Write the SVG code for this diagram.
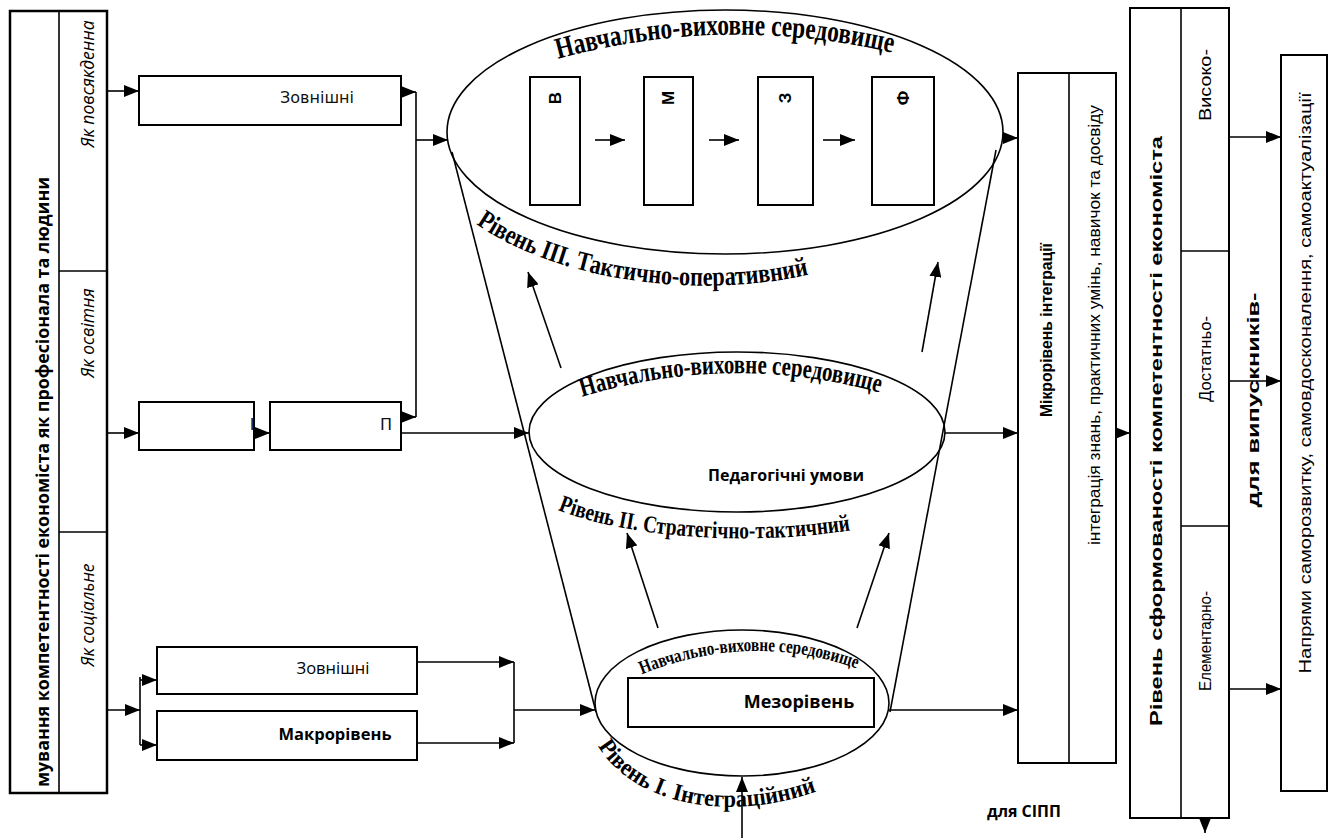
<svg xmlns="http://www.w3.org/2000/svg" width="1335" height="838" viewBox="0 0 1335 838">
<defs>
<marker id="ah" markerWidth="16" markerHeight="12" refX="15" refY="6" orient="auto" markerUnits="userSpaceOnUse">
<path d="M0,0 L15,6 L0,12 z" fill="#000"/>
</marker>
<path id="arc1" d="M 554,60 Q 727,12 902,55"/>
<path id="arc2" d="M 578,398 Q 733,350 888,395"/>
<path id="arc3" d="M 638,676 Q 752,628 866,672"/>
<path id="arcR3" d="M 476,224 C 560,282 700,300 812,274"/>
<path id="arcR2" d="M 558,510 C 620,535 740,548 852,530"/>
<path id="arcR1" d="M 598,746 C 630,800 720,825 815,792"/>
</defs>
<style>
.box{fill:#fff;stroke:#000;stroke-width:2}
.thick{fill:#fff;stroke:#000;stroke-width:2.5}
.ell{fill:none;stroke:#000;stroke-width:1.6}
.ln{fill:none;stroke:#000;stroke-width:1.6}
.arr{fill:none;stroke:#000;stroke-width:1.6;marker-end:url(#ah)}
.wa{font-family:"Liberation Serif",serif;font-weight:bold;fill:#000}
.sb{font-family:"Open Sans","Liberation Sans",sans-serif;font-weight:bold;fill:#000}
.sr{font-family:"Open Sans","Liberation Sans",sans-serif;fill:#000}
.it{font-family:"Open Sans","Liberation Sans",sans-serif;font-style:italic;fill:#000;font-size:17.5px}
.dv{font-family:"DejaVu Sans",sans-serif;fill:#111;font-size:16px}
.nb{font-family:"Liberation Sans",sans-serif;font-weight:bold;fill:#000}
.nr{font-family:"Liberation Sans",sans-serif;fill:#000}
</style>

<g id="left-column">
<rect class="thick" x="10" y="11" width="97" height="782"/>
<line class="ln" x1="59" y1="11" x2="59" y2="793" stroke-width="2"/>
<line class="ln" x1="59" y1="271" x2="107" y2="271" stroke-width="2"/>
<line class="ln" x1="59" y1="532" x2="107" y2="532" stroke-width="2"/>
<text class="sb" font-size="17" x="42" y="482" text-anchor="middle" dominant-baseline="central" transform="rotate(-90 42 482)" textLength="610" lengthAdjust="spacingAndGlyphs">мування компетентності економіста як професіонала та людини</text>
<text class="it" x="87" y="84" text-anchor="middle" dominant-baseline="central" transform="rotate(-90 87 84)">Як повсякденна</text>
<text class="it" x="87" y="333" text-anchor="middle" dominant-baseline="central" transform="rotate(-90 87 333)">Як освітня</text>
<text class="it" x="87" y="615" text-anchor="middle" dominant-baseline="central" transform="rotate(-90 87 615)">Як соціальне</text>
</g>

<g id="box-zovnishni-1">
<rect class="box" x="139" y="76" width="262" height="49"/>
<text class="dv" x="317" y="103" text-anchor="middle">Зовнішні</text>
</g>
<g id="box-i">
<rect class="box" x="139" y="402" width="115" height="48"/>
<text class="dv" x="252" y="430" text-anchor="middle" fill="#444">І</text>
</g>
<g id="box-p">
<rect class="box" x="270" y="402" width="131" height="48"/>
<text class="dv" x="386" y="430" text-anchor="middle" fill="#222">П</text>
</g>
<g id="box-zovnishni-2">
<rect class="box" x="157" y="647" width="260" height="47"/>
<text class="sr" font-size="16.5" x="333" y="674" text-anchor="middle">Зовнішні</text>
</g>
<g id="box-makro">
<rect class="box" x="157" y="711" width="260" height="49"/>
<text class="sb" font-size="16.5" x="335" y="740" text-anchor="middle">Макрорівень</text>
</g>

<g id="ellipse-1">
<ellipse class="ell" cx="725" cy="132" rx="278" ry="122"/>
<text class="wa" font-size="30"><textPath href="#arc1" startOffset="4" textLength="338" lengthAdjust="spacingAndGlyphs">Навчально-виховне середовище</textPath></text>
</g>
<g id="box-v"><rect class="box" x="530" y="77" width="50" height="128"/>
<text class="nb" font-size="17" x="555" y="98" text-anchor="middle" dominant-baseline="central" transform="rotate(-90 555 98)">В</text></g>
<g id="box-m"><rect class="box" x="644" y="77" width="49" height="128"/>
<text class="nb" font-size="17" x="668" y="98" text-anchor="middle" dominant-baseline="central" transform="rotate(-90 668 98)">М</text></g>
<g id="box-z"><rect class="box" x="758" y="77" width="55" height="128"/>
<text class="nb" font-size="17" x="785" y="98" text-anchor="middle" dominant-baseline="central" transform="rotate(-90 785 98)">З</text></g>
<g id="box-f"><rect class="box" x="872" y="77" width="62" height="128"/>
<text class="nb" font-size="17" x="903" y="98" text-anchor="middle" dominant-baseline="central" transform="rotate(-90 903 98)">Ф</text></g>

<g id="level-3-label">
<text class="wa" font-size="27"><textPath href="#arcR3" textLength="345" lengthAdjust="spacingAndGlyphs">Рівень ІІІ. Тактично-оперативний</textPath></text>
</g>

<g id="ellipse-2">
<ellipse class="ell" cx="737" cy="432" rx="208" ry="80"/>
<text class="wa" font-size="27"><textPath href="#arc2" startOffset="4" textLength="302" lengthAdjust="spacingAndGlyphs">Навчально-виховне середовище</textPath></text>
<text class="sb" font-size="16" x="786" y="481" text-anchor="middle">Педагогічні умови</text>
</g>

<g id="level-2-label">
<text class="wa" font-size="24"><textPath href="#arcR2" textLength="296" lengthAdjust="spacingAndGlyphs">Рівень ІІ. Стратегічно-тактичний</textPath></text>
</g>

<g id="ellipse-3">
<ellipse class="ell" cx="742" cy="703" rx="147" ry="73"/>
<text class="wa" font-size="19"><textPath href="#arc3" startOffset="4" textLength="220" lengthAdjust="spacingAndGlyphs">Навчально-виховне середовище</textPath></text>
</g>
<g id="box-mezo">
<rect class="box" x="628" y="678" width="246" height="49"/>
<text class="sb" font-size="18" x="799" y="708" text-anchor="middle">Мезорівень</text>
</g>

<g id="level-1-label">
<text class="wa" font-size="24"><textPath href="#arcR1" textLength="240" lengthAdjust="spacingAndGlyphs">Рівень І. Інтеграційний</textPath></text>
</g>

<g id="box-mikro">
<rect class="box" x="1018" y="73" width="98" height="690"/>
<line class="ln" x1="1069" y1="73" x2="1069" y2="763" stroke-width="2"/>
<text class="nb" font-size="17" x="1046" y="330" text-anchor="middle" dominant-baseline="central" transform="rotate(-90 1046 330)" textLength="174" lengthAdjust="spacingAndGlyphs">Мікрорівень інтеграції</text>
<text class="nr" font-size="16" x="1094" y="325" text-anchor="middle" dominant-baseline="central" transform="rotate(-90 1094 325)" textLength="440" lengthAdjust="spacingAndGlyphs">інтеграція знань, практичних умінь, навичок та досвіду</text>
</g>

<g id="box-riven">
<rect class="box" x="1130" y="8" width="99" height="810"/>
<line class="ln" x1="1181" y1="8" x2="1181" y2="818" stroke-width="2"/>
<line class="ln" x1="1181" y1="251" x2="1229" y2="251" stroke-width="2"/>
<line class="ln" x1="1181" y1="526" x2="1229" y2="526" stroke-width="2"/>
<text class="nb" font-size="16.5" x="1156" y="431" text-anchor="middle" dominant-baseline="central" transform="rotate(-90 1156 431)" textLength="590" lengthAdjust="spacingAndGlyphs">Рівень сформованості компетентності економіста</text>
<text class="nr" font-size="16" x="1205" y="85" text-anchor="middle" dominant-baseline="central" transform="rotate(-90 1205 85)" textLength="72" lengthAdjust="spacingAndGlyphs">Високо-</text>
<text class="nr" font-size="16" x="1205" y="359" text-anchor="middle" dominant-baseline="central" transform="rotate(-90 1205 359)" textLength="86" lengthAdjust="spacingAndGlyphs">Достатньо-</text>
<text class="nr" font-size="16" x="1205" y="641" text-anchor="middle" dominant-baseline="central" transform="rotate(-90 1205 641)" textLength="100" lengthAdjust="spacingAndGlyphs">Елементарно-</text>
</g>

<g id="box-napriamy">
<rect class="box" x="1281" y="55" width="46" height="736"/>
<text class="nr" font-size="16" x="1305" y="383" text-anchor="middle" dominant-baseline="central" transform="rotate(-90 1305 383)" textLength="581" lengthAdjust="spacingAndGlyphs">Напрями саморозвитку, самовдосконалення, самоактуалізації</text>
</g>

<g id="label-vypusknykiv">
<text class="nb" font-size="16" x="1253" y="400" text-anchor="middle" dominant-baseline="central" transform="rotate(-90 1253 400)" textLength="215" lengthAdjust="spacingAndGlyphs">для випускників-</text>
</g>
<g id="label-sipp">
<text class="sb" font-size="16" x="1024" y="817" text-anchor="middle">для СІПП</text>
</g>

<g id="connectors">
<path class="arr" d="M107,91 L139,91"/>
<path class="arr" d="M401,92 L416,92"/>
<path class="ln" d="M416,92 L416,417" stroke-width="2"/>
<path class="arr" d="M416,140 L448,140"/>
<path class="arr" d="M107,433 L139,433"/>
<path class="arr" d="M254,433 L270,433"/>
<path class="arr" d="M401,417 L416,417"/>
<path class="arr" d="M401,433 L529,433"/>
<path class="arr" d="M107,710 L140,710"/>
<path class="ln" d="M140,677 L140,745" stroke-width="2"/>
<path class="arr" d="M140,680 L157,680"/>
<path class="arr" d="M140,745 L157,745"/>
<path class="arr" d="M417,662 L514,662"/>
<path class="arr" d="M417,743 L514,743"/>
<path class="ln" d="M514,662 L514,743"/>
<path class="arr" d="M514,710 L595,710"/>
<path class="arr" d="M595,140 L625,140"/>
<path class="arr" d="M709,140 L739,140"/>
<path class="arr" d="M823,140 L855,140"/>
<path class="arr" d="M1003,138 L1018,138"/>
<path class="arr" d="M945,433 L1018,433"/>
<path class="arr" d="M889,710 L1018,710"/>
<path class="arr" d="M1116,433 L1130,433"/>
<path class="arr" d="M1229,137 L1281,137"/>
<path class="arr" d="M1229,381 L1281,381"/>
<path class="arr" d="M1229,689 L1281,689"/>
<path class="arr" d="M1205,818 L1205,833"/>
<path class="arr" d="M561,368 L528,272"/>
<path class="arr" d="M922,352 L938,262"/>
<path class="arr" d="M658,628 L627,533"/>
<path class="arr" d="M857,628 L889,533"/>
<path class="arr" d="M742,838 L742,777"/>
<path class="ln" d="M452,152 L596,712"/>
<path class="ln" d="M996,150 L890,712"/>
</g>
</svg>
